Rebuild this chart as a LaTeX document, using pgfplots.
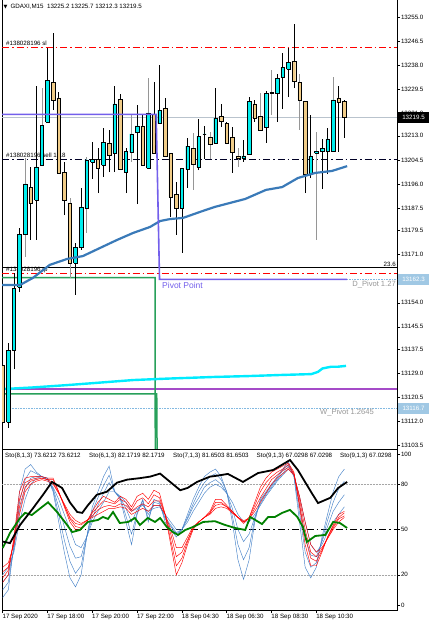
\documentclass[border=0pt]{standalone}
\usepackage{pgfplots}
\pgfplotsset{compat=1.18}
\usepackage{fontspec}
\setmainfont{Liberation Sans}
\newfontfamily\dejavu{DejaVu Sans}
\definecolor{bu}{RGB}{0,238,238}
\definecolor{be}{RGB}{240,204,136}
\definecolor{gw}{RGB}{150,150,150}
\definecolor{mablue}{RGB}{58,122,184}
\definecolor{pivp}{RGB}{115,95,235}
\definecolor{wpurp}{RGB}{165,75,200}
\definecolor{pgreen}{RGB}{40,160,90}
\definecolor{aq}{RGB}{0,235,255}
\definecolor{lblue}{RGB}{130,185,225}
\definecolor{boxblue}{RGB}{160,200,228}
\definecolor{bidgray}{RGB}{185,195,205}
\definecolor{stoblue}{RGB}{70,130,200}
\definecolor{txtgray}{RGB}{150,150,150}
\newcommand\ft{\fontsize{6.2}{7.5}\selectfont}
\tikzset{dashdot/.style={dash pattern=on 7pt off 3pt on 1.5pt off 3pt}}
\newcommand\cdl[7]{%
 \pgfmathsetmacro\xl{#3-0.32}\pgfmathsetmacro\xr{#3+0.32}%
 \edef\tmp{\noexpand\addplot[#2, line width=0.8pt] coordinates {(#3,#6) (#3,#5)};
 \noexpand\addplot[draw=black, line width=0.45pt, fill=#1] coordinates {(\xl,#4) (\xr,#4) (\xr,#7) (\xl,#7) (\xl,#4)};}%
 \tmp}
\begin{document}
\begin{tikzpicture}
\path[use as bounding box] (0pt,0pt) rectangle (429pt,625pt);
% header and order labels (behind candles)
\node[anchor=west, inner sep=0pt, font=\ft] at (3.5pt,618pt) {{\dejavu\fontsize{5}{6}\selectfont ▼}\hspace{3pt}GDAXI,M15\ \ 13225.2 13225.7 13212.3 13219.5};
\node[anchor=west, inner sep=0pt, font=\ft] at (6pt,581.5pt) {\#138028196 sl};
\node[anchor=west, inner sep=0pt, font=\ft] at (6pt,470pt) {\#138028196 sell 1.18};
\node[anchor=west, inner sep=0pt, font=\ft] at (6pt,355.5pt) {\#138028196 tp};
\begin{axis}[at={(2pt,176pt)}, anchor=south west, scale only axis,
  width=395pt, height=450pt,
  xmin=-0.125, xmax=70.4, ymin=13102.33, ymax=13261.37,
  axis line style={black, line width=0.6pt},
  xtick=\empty, scaled y ticks=false, scaled x ticks=false,
  ytick={13255,13246.5,13238,13229.5,13221,13213,13204.5,13196,13187.5,13179.5,13171,13154,13145.5,13137.5,13129,13120.5,13112,13103.5},
  yticklabels={13255.0,13246.5,13238.0,13229.5,13221.0,13213.0,13204.5,13196.0,13187.5,13179.5,13171.0,13154.0,13145.5,13137.5,13129.0,13120.5,13112.0,13103.5},
  ytick pos=right, yticklabel pos=right, tick align=outside, major tick length=3pt,
  tick style={black, line width=0.5pt},
  ticklabel style={font=\ft},
  yticklabel style={anchor=west, inner sep=0pt, xshift=0.8pt},
]
% level lines
\addplot[bidgray, line width=0.7pt] coordinates {(-0.125,13219.5) (70.4,13219.5)};
\addplot[red, line width=0.7pt, dashdot] coordinates {(-0.125,13244.3) (70.4,13244.3)};
\addplot[black!85!blue, line width=0.8pt, dashdot] coordinates {(-0.125,13204.7) (70.4,13204.7)};
\addplot[black, line width=0.9pt] coordinates {(-0.125,13166.4) (70.4,13166.4)};
\addplot[red, line width=0.7pt, dashdot] coordinates {(-0.125,13164.4) (70.4,13164.4)};
\addplot[lblue, line width=0.6pt, densely dotted] coordinates {(61.5,13162.3) (70.4,13162.3)};
\addplot[lblue, line width=0.6pt, densely dotted] coordinates {(1.3,13116.7) (70.4,13116.7)};
\addplot[wpurp, line width=1.3pt] coordinates {(-0.125,13123.5) (70.4,13123.5)};
\addplot[pgreen, line width=1.5pt] coordinates {(-0.125,13162.9) (27.2,13162.9) (27.25,13090)};
\addplot[pgreen, line width=1.5pt] coordinates {(-0.125,13121.8) (27.5,13121.8) (27.6,13090)};
\addplot[aq, line width=2.4pt] coordinates {(0,13123.5) (5.5,13124.1) (11.4,13124.9) (17.4,13125.8) (23.3,13126.7) (29.3,13127.2) (37.9,13127.8) (43.8,13128.1) (49.8,13128.5) (55.1,13128.8) (56.3,13129.6) (57.1,13130.8) (58.6,13131.4) (59.8,13131.4) (61.3,13131.7)};
% candles: fill, wick, x, open, high, low, close
\cdl{be}{black}{0}{13132.0}{13133.1}{13106.9}{13111.9}
\cdl{bu}{black}{1}{13111.9}{13139.8}{13109.8}{13137.3}
\cdl{bu}{black}{2}{13137.3}{13164.5}{13130.6}{13159.2}
\cdl{bu}{black}{3}{13159.6}{13180.4}{13157.8}{13178.3}
\cdl{bu}{gw}{4}{13178.3}{13205.2}{13170.2}{13196.0}
\cdl{be}{black}{5}{13194.9}{13202.0}{13176.2}{13189.3}
\cdl{bu}{black}{6}{13190.3}{13230.6}{13176.2}{13202.0}
\cdl{bu}{gw}{7}{13202.7}{13229.9}{13202.7}{13216.8}
\cdl{bu}{black}{8}{13217.9}{13244.0}{13217.9}{13232.7}
\cdl{be}{black}{9}{13232.0}{13249.3}{13222.1}{13225.7}
\cdl{be}{black}{10}{13226.4}{13228.5}{13199.9}{13199.9}
\cdl{be}{black}{11}{13200.2}{13203.8}{13185.0}{13190.3}
\cdl{be}{gw}{12}{13189.3}{13191.0}{13162.8}{13168.1}
\cdl{bu}{black}{13}{13168.1}{13175.1}{13156.8}{13173.7}
\cdl{bu}{black}{14}{13173.7}{13194.6}{13172.7}{13187.9}
\cdl{bu}{gw}{15}{13187.5}{13205.5}{13178.7}{13204.5}
\cdl{bu}{black}{16}{13203.8}{13210.8}{13197.8}{13204.8}
\cdl{be}{black}{17}{13204.8}{13208.7}{13192.8}{13201.6}
\cdl{bu}{black}{18}{13202.7}{13215.8}{13198.5}{13210.8}
\cdl{be}{black}{19}{13210.5}{13215.1}{13200.2}{13206.2}
\cdl{bu}{black}{20}{13206.9}{13230.6}{13200.2}{13224.3}
\cdl{be}{black}{21}{13226.0}{13227.8}{13201.3}{13201.3}
\cdl{bu}{black}{22}{13200.2}{13208.7}{13192.8}{13207.6}
\cdl{bu}{gw}{23}{13207.3}{13220.7}{13203.8}{13213.7}
\cdl{bu}{black}{24}{13214.4}{13223.9}{13188.9}{13216.5}
\cdl{be}{black}{25}{13216.5}{13220.4}{13202.7}{13202.7}
\cdl{bu}{gw}{26}{13201.6}{13233.4}{13201.6}{13221.1}
\cdl{be}{black}{27}{13220.7}{13232.0}{13206.9}{13206.9}
\cdl{bu}{black}{28}{13217.5}{13238.0}{13217.5}{13222.1}
\cdl{be}{black}{29}{13222.8}{13226.4}{13205.9}{13205.9}
\cdl{be}{black}{30}{13206.9}{13206.9}{13184.3}{13191.4}
\cdl{be}{black}{31}{13192.4}{13196.7}{13178.0}{13187.5}
\cdl{bu}{black}{32}{13187.5}{13201.6}{13171.6}{13201.6}
\cdl{bu}{black}{33}{13201.3}{13212.2}{13194.6}{13209.4}
\cdl{be}{gw}{34}{13208.7}{13214.0}{13193.9}{13203.0}
\cdl{bu}{black}{35}{13202.0}{13219.0}{13200.9}{13212.9}
\cdl{bu}{black}{36}{13213.7}{13216.5}{13204.8}{13213.7}
\cdl{be}{gw}{37}{13212.6}{13214.4}{13204.8}{13210.1}
\cdl{bu}{black}{38}{13210.5}{13229.9}{13210.5}{13219.3}
\cdl{be}{black}{39}{13220.0}{13224.3}{13216.1}{13218.2}
\cdl{be}{black}{40}{13217.5}{13217.9}{13210.1}{13210.5}
\cdl{be}{black}{41}{13212.6}{13216.1}{13199.9}{13207.3}
\cdl{be}{gw}{42}{13205.9}{13208.7}{13202.0}{13205.2}
\cdl{bu}{black}{43}{13205.2}{13211.5}{13203.8}{13205.9}
\cdl{bu}{black}{44}{13206.6}{13226.7}{13206.6}{13225.3}
\cdl{be}{black}{45}{13224.3}{13225.7}{13217.9}{13219.3}
\cdl{be}{gw}{46}{13220.0}{13228.1}{13215.1}{13215.1}
\cdl{bu}{black}{47}{13216.1}{13228.9}{13210.5}{13228.1}
\cdl{be}{gw}{48}{13228.5}{13236.3}{13220.4}{13228.1}
\cdl{bu}{black}{49}{13228.1}{13234.9}{13217.9}{13233.4}
\cdl{bu}{black}{50}{13233.8}{13242.3}{13222.5}{13237.3}
\cdl{bu}{black}{51}{13236.6}{13244.0}{13226.7}{13239.1}
\cdl{be}{black}{52}{13239.5}{13252.5}{13229.9}{13232.4}
\cdl{be}{gw}{53}{13232.0}{13234.9}{13215.1}{13225.7}
\cdl{be}{black}{54}{13225.3}{13225.3}{13192.8}{13199.5}
\cdl{bu}{black}{55}{13199.5}{13220.4}{13198.1}{13205.9}
\cdl{bu}{gw}{56}{13206.9}{13214.4}{13176.2}{13207.6}
\cdl{bu}{black}{57}{13207.6}{13211.9}{13194.2}{13208.7}
\cdl{bu}{black}{58}{13207.6}{13215.8}{13199.5}{13211.9}
\cdl{bu}{gw}{59}{13207.6}{13233.8}{13207.6}{13225.7}
\cdl{be}{black}{60}{13226.4}{13230.6}{13207.3}{13225.0}
\cdl{be}{black}{61}{13225.2}{13225.7}{13212.3}{13219.5}
% moving average and pivot
\addplot[mablue, line width=2.2pt] coordinates {(-0.125,13160.3) (3.1,13160.3) (5.4,13162.8) (8.4,13167.4) (11.5,13169.5) (14.3,13170.5) (17.4,13173.4) (20.4,13176.2) (23.3,13178.7) (26.3,13180.8) (28.1,13182.9) (29.9,13183.6) (32.2,13184.0) (35.2,13186.1) (37.9,13187.9) (43.3,13190.7) (47.0,13193.9) (49.9,13194.9) (52.7,13198.1) (55.8,13199.9) (58.8,13200.6) (61.5,13202.3)};
\addplot[pivp, line width=1.6pt] coordinates {(-0.125,13220.6) (27.4,13220.6) (28,13162.3) (61.5,13162.3)};
\end{axis}
% stochastic window
\begin{axis}[at={(2pt,15pt)}, anchor=south west, scale only axis,
  width=395pt, height=161pt,
  xmin=-0.125, xmax=70.4, ymin=-3.3, ymax=103.3,
  axis line style={black, line width=0.6pt},
  scaled y ticks=false, scaled x ticks=false,
  xtick={0,8,16,24,32,40,48,56},
  xticklabels={17 Sep 2020,17 Sep 18:00,17 Sep 20:00,17 Sep 22:00,18 Sep 04:30,18 Sep 06:30,18 Sep 08:30,18 Sep 10:30},
  ytick={0,20,50,80,100}, yticklabels={0,20,50,80,100},
  xtick pos=left, ytick pos=right, yticklabel pos=right,
  tick align=outside, major tick length=3pt,
  tick style={black, line width=0.5pt},
  ticklabel style={font=\ft},
  xticklabel style={anchor=north west, inner sep=0pt, xshift=-0.3pt, yshift=-1pt},
  yticklabel style={anchor=west, inner sep=0pt, xshift=0.8pt},
]
\addplot[gray!70, line width=0.5pt, densely dotted] coordinates {(-0.125,80) (70.4,80)};
\addplot[gray!70, line width=0.5pt, densely dotted] coordinates {(-0.125,20) (70.4,20)};
\addplot[black, line width=0.9pt, dash pattern=on 7pt off 3pt on 1.5pt off 3pt] coordinates {(-0.125,50) (70.4,50)};
% blue fan
\addplot[stoblue, line width=0.45pt] coordinates {(0,5)(1,10)(2,40)(3,75)(4,90)(5,93)(6,88)(7,85)(8,84)(9,75)(10,55)(11,35)(12,18)(13,12)(14,20)(15,45)(16,65)(17,75)(18,85)(19,92)(20,75)(21,70)(22,55)(23,40)(24,60)(25,70)(26,55)(27,70)(28,68)(29,55)(30,50)(31,45)(32,50)(33,60)(34,70)(35,78)(36,85)(37,88)(38,90)(39,85)(40,75)(41,55)(42,30)(43,17)(44,30)(45,55)(46,70)(47,75)(48,80)(49,85)(50,90)(51,95)(52,85)(53,55)(54,25)(55,18)(56,25)(57,45)(58,60)(59,75)(60,85)(61,90)};
\addplot[stoblue, line width=0.45pt] coordinates {(0,10)(1,15)(2,38)(3,68)(4,83)(5,89)(6,87)(7,85)(8,84)(9,76)(10,60)(11,43)(12,29)(13,21)(14,26)(15,45)(16,62)(17,71)(18,79)(19,86)(20,75)(21,71)(22,59)(23,47)(24,61)(25,69)(26,57)(27,68)(28,67)(29,57)(30,52)(31,47)(32,50)(33,58)(34,67)(35,75)(36,81)(37,85)(38,87)(39,83)(40,75)(41,59)(42,40)(43,30)(44,38)(45,57)(46,69)(47,74)(48,79)(49,84)(50,89)(51,93)(52,85)(53,61)(54,35)(55,25)(56,28)(57,43)(58,56)(59,68)(60,77)(61,82)};
\addplot[stoblue, line width=0.45pt] coordinates {(0,15)(1,20)(2,37)(3,62)(4,77)(5,84)(6,85)(7,85)(8,83)(9,77)(10,65)(11,52)(12,39)(13,31)(14,32)(15,45)(16,58)(17,66)(18,74)(19,81)(20,75)(21,71)(22,64)(23,55)(24,63)(25,67)(26,60)(27,66)(28,66)(29,58)(30,53)(31,48)(32,50)(33,57)(34,65)(35,71)(36,78)(37,81)(38,83)(39,80)(40,74)(41,64)(42,50)(43,42)(44,47)(45,58)(46,67)(47,73)(48,78)(49,83)(50,87)(51,92)(52,86)(53,66)(54,45)(55,33)(56,32)(57,42)(58,52)(59,62)(60,68)(61,73)};
\addplot[stoblue, line width=0.45pt] coordinates {(0,20)(1,25)(2,35)(3,55)(4,70)(5,80)(6,84)(7,85)(8,83)(9,78)(10,70)(11,60)(12,50)(13,40)(14,38)(15,45)(16,55)(17,62)(18,68)(19,75)(20,75)(21,72)(22,68)(23,62)(24,64)(25,66)(26,62)(27,64)(28,65)(29,60)(30,55)(31,50)(32,50)(33,55)(34,62)(35,68)(36,74)(37,78)(38,80)(39,78)(40,74)(41,68)(42,60)(43,55)(44,55)(45,60)(46,66)(47,72)(48,77)(49,82)(50,86)(51,90)(52,86)(53,72)(54,55)(55,40)(56,35)(57,40)(58,48)(59,55)(60,60)(61,65)};
% red fan
\addplot[red, line width=0.45pt] coordinates {(0,15)(1,20)(2,45)(3,75)(4,84)(5,85)(6,85)(7,85)(8,84)(9,84)(10,75)(11,65)(12,55)(13,50)(14,50)(15,55)(16,62)(17,68)(18,72)(19,70)(20,68)(21,72)(22,70)(23,65)(24,72)(25,74)(26,70)(27,76)(28,74)(29,60)(30,40)(31,20)(32,28)(33,40)(34,50)(35,55)(36,58)(37,62)(38,70)(39,70)(40,66)(41,62)(42,58)(43,54)(44,58)(45,68)(46,78)(47,84)(48,88)(49,90)(50,92)(51,94)(52,88)(53,65)(54,40)(55,26)(56,26)(57,35)(58,45)(59,53)(60,60)(61,62)};
\addplot[red, line width=0.45pt] coordinates {(0,18)(1,23)(2,43)(3,70)(4,81)(5,83)(6,84)(7,84)(8,83)(9,83)(10,75)(11,66)(12,57)(13,52)(14,51)(15,55)(16,61)(17,65)(18,69)(19,68)(20,67)(21,70)(22,68)(23,63)(24,69)(25,71)(26,67)(27,73)(28,71)(29,60)(30,43)(31,26)(32,31)(33,42)(34,51)(35,55)(36,58)(37,61)(38,68)(39,68)(40,65)(41,62)(42,58)(43,55)(44,58)(45,66)(46,75)(47,81)(48,85)(49,88)(50,90)(51,93)(52,87)(53,67)(54,45)(55,31)(56,29)(57,36)(58,45)(59,52)(60,58)(61,61)};
\addplot[red, line width=0.45pt] coordinates {(0,22)(1,25)(2,42)(3,65)(4,78)(5,82)(6,83)(7,84)(8,83)(9,81)(10,74)(11,66)(12,58)(13,54)(14,53)(15,56)(16,59)(17,63)(18,65)(19,66)(20,65)(21,67)(22,66)(23,62)(24,65)(25,67)(26,65)(27,69)(28,69)(29,60)(30,47)(31,32)(32,35)(33,43)(34,51)(35,55)(36,58)(37,61)(38,66)(39,67)(40,65)(41,61)(42,58)(43,55)(44,57)(45,64)(46,71)(47,77)(48,83)(49,86)(50,89)(51,91)(52,87)(53,70)(54,50)(55,35)(56,32)(57,37)(58,44)(59,51)(60,57)(61,59)};
\addplot[red, line width=0.45pt] coordinates {(0,25)(1,28)(2,40)(3,60)(4,75)(5,80)(6,82)(7,83)(8,82)(9,80)(10,74)(11,67)(12,60)(13,56)(14,54)(15,56)(16,58)(17,60)(18,62)(19,64)(20,64)(21,65)(22,64)(23,60)(24,62)(25,64)(26,62)(27,66)(28,66)(29,60)(30,50)(31,38)(32,38)(33,45)(34,52)(35,55)(36,58)(37,60)(38,64)(39,65)(40,64)(41,61)(42,58)(43,56)(44,57)(45,62)(46,68)(47,74)(48,80)(49,84)(50,87)(51,90)(52,86)(53,72)(54,55)(55,40)(56,35)(57,38)(58,44)(59,50)(60,55)(61,58)};
% green and black
\addplot[green!50!black, line width=1.8pt] coordinates {(0,37.7)(1.3,47.7)(3.1,57.6)(4,61)(5.2,59.6)(6.7,64)(8.1,68)(9.7,61.6)(11.5,53)(12.4,48.3)(13.8,49.7)(15.2,55)(17,56.3)(17.9,58.3)(18.8,57)(19.7,61.6)(20.9,54.3)(22.4,55)(23.6,57.6)(24.5,53)(25.9,57.6)(27.2,55)(28.1,57.6)(29.3,51.7)(30.4,48.3)(31.3,46.4)(32.6,49.7)(34,51.7)(35.8,55)(37.9,55.5)(39.7,53)(41.5,51)(43.3,49.7)(44.2,58.3)(46.3,53.6)(47.4,58.3)(48.6,58.3)(49.9,61)(51.3,63)(52.6,58.3)(53.6,51.7)(54.3,41.7)(55.8,45.7)(57.6,46.4)(59,55)(60.2,54.3)(61.5,51)};
\addplot[black, line width=1.8pt] coordinates {(0,42)(1.3,41)(3.1,53)(5.4,64)(7.2,73)(8.8,81.5)(10.6,77.5)(12,68)(13.3,61.6)(14.2,61)(15.2,66)(16.8,73)(18.6,75)(20.4,81)(22.2,83)(24.5,84)(26.3,85)(28.1,87)(29.9,81.5)(31.7,76)(33,77.5)(34.7,81.5)(37,85)(37.9,85.4)(40.2,86.8)(42.9,81.5)(45.6,87.4)(48.3,89.4)(51.3,96)(52.7,89.4)(55.2,74)(56.3,67.5)(58.5,71)(59.9,77.5)(61.5,81.5)};
\end{axis}
% overlays: texts and price boxes
\node[anchor=east, inner sep=0pt, font=\ft] at (396pt,361pt) {23.6};
\node[anchor=west, inner sep=0pt, font=\fontsize{8.5}{10}\selectfont, text=pivp] at (162pt,340pt) {Pivot Point};
\node[anchor=east, inner sep=0pt, font=\fontsize{7.6}{9}\selectfont, text=txtgray] at (396pt,340pt) {D\_Pivot 1.27};
\node[anchor=west, inner sep=0pt, font=\fontsize{7.6}{9}\selectfont, text=txtgray] at (320pt,212pt) {W\_Pivot 1.2645};
\node[fill=black, text=white, inner sep=0pt, minimum width=31pt, minimum height=10.5pt, font=\ft] at (413.5pt,507.3pt) {13219.5};
\node[fill=boxblue, text=white, inner sep=0pt, minimum width=31pt, minimum height=10.5pt, font=\ft] at (413.5pt,345.7pt) {13162.3};
\node[fill=boxblue, text=white, inner sep=0pt, minimum width=31pt, minimum height=10.5pt, font=\ft] at (413.5pt,216.7pt) {13116.7};
\node[anchor=west, inner sep=0pt, font=\ft] at (5pt,169pt) {Sto(8,1,3) 73.6212 73.6212};
\node[anchor=west, inner sep=0pt, font=\ft] at (89pt,169pt) {Sto(6,1,3) 82.1719 82.1719};
\node[anchor=west, inner sep=0pt, font=\ft] at (173pt,169pt) {Sto(7,1,3) 81.6503 81.6503};
\node[anchor=west, inner sep=0pt, font=\ft] at (256.5pt,169pt) {Sto(9,1,3) 67.0298 67.0298};
\node[anchor=west, inner sep=0pt, font=\ft] at (340pt,169pt) {Sto(9,1,3) 67.0298};
\end{tikzpicture}
\end{document}
